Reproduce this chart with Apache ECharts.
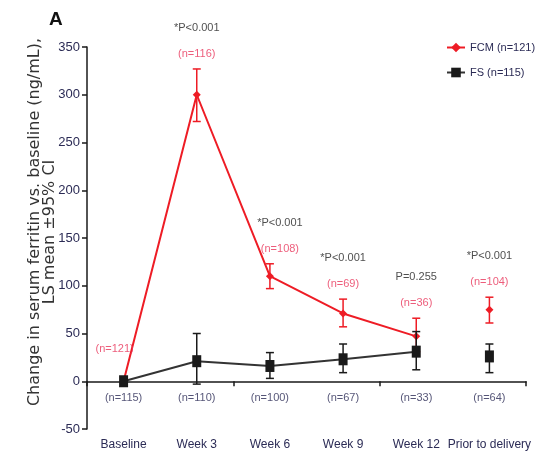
<!DOCTYPE html>
<html><head><meta charset="utf-8">
<script src="https://cdn.jsdelivr.net/npm/echarts@6/dist/echarts.min.js"></script>
<style>html,body{margin:0;padding:0;background:#fff}#c{width:538px;height:456px}</style>
</head><body><div id="c"></div>
<script>
const categories = ['Baseline', 'Week 3', 'Week 6', 'Week 9', 'Week 12', 'Prior to delivery'];
const fcmMean = [0, 300, 110, 71, 47, 75];
const fcmLow  = [0, 272, 97, 57, 31, 61];
const fcmHigh = [0, 327, 123, 86, 66, 88];
const fsMean  = [0, 21, 16, 23, 31, 26];
const fsLow   = [0, -3, 3, 9, 12, 9];
const fsHigh  = [0, 50, 30, 39, 52, 39];
const fcmN = ['(n=121)', '(n=116)', '(n=108)', '(n=69)', '(n=36)', '(n=104)'];
const fsN  = ['(n=115)', '(n=110)', '(n=100)', '(n=67)', '(n=33)', '(n=64)'];
const pLabels = ['', '*P<0.001', '*P<0.001', '*P<0.001', 'P=0.255', '*P<0.001'];
const yNameLines = ['Change in serum ferritin vs. baseline (ng/mL),', 'LS mean \u00b195% CI'];
const yMin = -50, yMax = 350, yStep = 50;

const FONT = "'Liberation Sans', Arial, sans-serif";
const RED = '#ee1c25';
const RED_TXT = '#e8345a';
const NAVY = '#2b2b55';
const BLK = '#1a1a1a';

function errSeries(low, high, color, width, z) {
  return {
    type: 'custom', z: z, silent: true,
    data: categories.map((c, i) => [i, low[i], high[i]]),
    encode: { x: 0, y: [1, 2] },
    renderItem: function (params, api) {
      if (api.value(1) === api.value(2)) return null;
      const lo = api.coord([api.value(0), api.value(1)]);
      const hi = api.coord([api.value(0), api.value(2)]);
      const w = 4;
      const st = { stroke: color, lineWidth: width };
      return { type: 'group', children: [
        { type: 'line', shape: { x1: lo[0], y1: lo[1], x2: hi[0], y2: hi[1] }, style: st },
        { type: 'line', shape: { x1: lo[0] - w, y1: lo[1], x2: lo[0] + w, y2: lo[1] }, style: st },
        { type: 'line', shape: { x1: hi[0] - w, y1: hi[1], x2: hi[0] + w, y2: hi[1] }, style: st }
      ]};
    }
  };
}

function labelSeries(yVals, texts, color, dy, dxFn) {
  return {
    type: 'scatter', symbolSize: 0, silent: true, clip: false, z: 10,
    data: categories.map((c, i) => ({
      value: [i, yVals[i]],
      label: { show: texts[i] !== '', formatter: texts[i], offset: [dxFn ? dxFn(i) : 0, dy] }
    })),
    label: { position: 'inside', color: color, fontFamily: FONT, fontSize: 11 }
  };
}

const last = categories.length - 1;
const chart = echarts.init(document.getElementById('c'));
chart.setOption({
  backgroundColor: '#fff',
  animation: false,
  title: { text: 'A', left: 44, top: 5, textStyle: { fontFamily: FONT, fontWeight: 'bold', fontSize: 19, color: '#111' } },
  legend: {
    orient: 'vertical', left: 441, top: 37, itemWidth: 18, itemHeight: 12, itemGap: 14,
    data: ['FCM (n=121)', 'FS (n=115)'],
    textStyle: { fontFamily: FONT, fontSize: 11, color: NAVY }
  },
  graphic: [
    { type: 'text', x: 35, y: 222, rotation: Math.PI / 2,
      style: { text: yNameLines[0], font: "16px 'DejaVu Sans', sans-serif", fill: '#333', align: 'center', verticalAlign: 'middle' } },
    { type: 'text', x: 50, y: 232, rotation: Math.PI / 2,
      style: { text: yNameLines[1], font: "16px 'DejaVu Sans', sans-serif", fill: '#333', align: 'center', verticalAlign: 'middle' } }
  ],
  grid: { left: 87, right: 12, top: 47, bottom: 27 },
  xAxis: [
    { type: 'category', data: categories, boundaryGap: true,
      axisLine: { onZero: true, lineStyle: { color: BLK, width: 1.5 } },
      axisTick: { show: true, length: 5, lineStyle: { color: BLK, width: 1.5 } },
      axisLabel: { show: false }, splitLine: { show: false } },
    { type: 'category', data: categories, position: 'bottom', boundaryGap: true,
      axisLine: { show: false, onZero: false }, axisTick: { show: false },
      axisLabel: { margin: 10, fontFamily: FONT, fontSize: 12, color: NAVY, interval: 0 } }
  ],
  yAxis: {
    type: 'value', min: yMin, max: yMax, interval: yStep,
    axisLine: { show: true, lineStyle: { color: BLK, width: 1.5 } },
    axisTick: { show: true, length: 5, lineStyle: { color: BLK, width: 1.5 } },
    axisLabel: { margin: 7, fontFamily: FONT, fontSize: 13, color: NAVY },
    splitLine: { show: false }
  },
  series: [
    errSeries(fcmLow, fcmHigh, RED, 1.5, 3),
    { name: 'FCM (n=121)', type: 'line', z: 4, data: fcmMean.slice(0, last).concat(['-']),
      symbol: 'diamond', symbolSize: 8, color: RED, lineStyle: { width: 2, color: RED }, itemStyle: { color: RED } },
    { type: 'scatter', z: 4, data: categories.map((c, i) => i === last ? [i, fcmMean[i]] : [i, '-']),
      symbol: 'diamond', symbolSize: 8, itemStyle: { color: RED, opacity: 1 } },
    errSeries(fsLow, fsHigh, BLK, 1.5, 5),
    { name: 'FS (n=115)', type: 'line', z: 6, data: fsMean.slice(0, last).concat(['-']),
      symbol: 'rect', symbolSize: [9, 12], color: BLK, lineStyle: { width: 2, color: '#333' }, itemStyle: { color: BLK } },
    { type: 'scatter', z: 6, data: categories.map((c, i) => i === last ? [i, fsMean[i]] : [i, '-']),
      symbol: 'rect', symbolSize: [9, 12], itemStyle: { color: BLK, opacity: 1 } },
    labelSeries(fcmHigh, pLabels, '#222', -41, i => (i === 2 ? 10 : 0)),
    labelSeries(fcmHigh, fcmN.map((t, i) => i === 0 ? '' : t), RED_TXT, -15, i => (i === 2 ? 10 : 0)),
    labelSeries(fcmMean, fcmN.map((t, i) => i === 0 ? t : ''), RED_TXT, -32, () => -9),
    labelSeries(categories.map(() => 0), fsN, NAVY, 17, null)
  ]
});
</script>
</body></html>
